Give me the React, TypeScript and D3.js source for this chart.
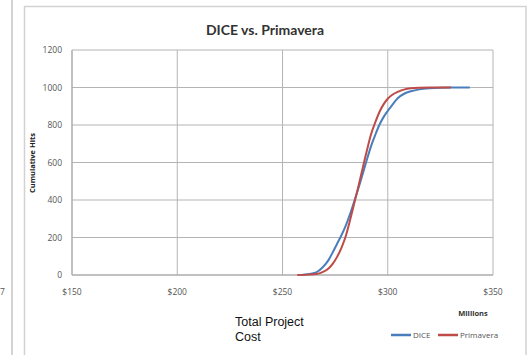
import React from "react";
import * as d3 from "d3";

const xTicks = [150, 200, 250, 300, 350];
const xTickLabels = ["$150", "$200", "$250", "$300", "$350"];
const yTicks = [0, 200, 400, 600, 800, 1000, 1200];

const diceCost = [259, 262, 266, 269, 272, 274, 276, 278, 280, 282, 284, 286, 288, 290, 292, 294, 296, 298, 300, 302, 305, 308, 311, 315, 320, 325, 330, 335, 339];
const diceHits = [0, 4, 14, 40, 82, 124, 168, 212, 262, 322, 390, 460, 535, 612, 685, 745, 800, 842, 875, 905, 945, 968, 980, 990, 996, 999, 1000, 1000, 1000];

const primCost = [257, 262, 266, 269, 272, 274, 276, 278, 280, 282, 284, 286, 288, 290, 292, 294, 296, 298, 300, 302, 305, 308, 311, 315, 320, 325, 330];
const primHits = [0, 2, 5, 15, 36, 62, 98, 145, 205, 288, 378, 470, 565, 660, 748, 812, 868, 910, 940, 960, 978, 990, 996, 999, 1000, 1000, 1000];

const seriesNames = ["DICE", "Primavera"];
const seriesColors = ["#4A7EBB", "#BE4B48"];

export default function App() {
  const x = d3.scaleLinear().domain([150, 350]).range([72, 493]);
  const y = d3.scaleLinear().domain([0, 1200]).range([275, 50]);
  const line = d3
    .line<[number, number]>()
    .x((d) => x(d[0]))
    .y((d) => y(d[1]))
    .curve(d3.curveMonotoneX);
  const dice = diceCost.map((c, i) => [c, diceHits[i]] as [number, number]);
  const prim = primCost.map((c, i) => [c, primHits[i]] as [number, number]);
  const series = [dice, prim];
  const tickFont = "'Open Sans', 'DejaVu Sans', sans-serif";
  const legendX = [391, 438];

  return (
    <svg
      width={530}
      height={355}
      style={{ position: "fixed", left: 0, top: 0, background: "#fff" }}
    >
      <rect x={0} y={0} width={530} height={355} fill="#fff" />
      <line x1={12} y1={0} x2={12} y2={355} stroke="#c4c4c4" strokeWidth={1.5} />
      <text x={0} y={295} fontSize={8.5} fill="#555" fontFamily={tickFont}>7</text>
      <path d="M24.5,355 V6.5 H526 V355" fill="none" stroke="#d2d2d2" strokeWidth={1.5} />
      <text
        x={265}
        y={35}
        textAnchor="middle"
        fontSize={14}
        fontWeight="bold"
        fill="#333"
        fontFamily="Lato, 'Open Sans', sans-serif"
      >
        DICE vs. Primavera
      </text>
      {yTicks.map((t) => (
        <line key={"gy" + t} x1={72} x2={493} y1={y(t)} y2={y(t)} stroke="#b4b4b4" strokeWidth={1} />
      ))}
      {xTicks.map((t) => (
        <line key={"gx" + t} x1={x(t)} x2={x(t)} y1={50} y2={275} stroke="#b4b4b4" strokeWidth={1} />
      ))}
      <line x1={72} x2={72} y1={50} y2={275} stroke="#a8a8a8" strokeWidth={1} />
      <line x1={72} x2={493} y1={275} y2={275} stroke="#a8a8a8" strokeWidth={1.2} />
      {yTicks.map((t) => (
        <text
          key={"ty" + t}
          x={62}
          y={y(t) + 3}
          textAnchor="end"
          fontSize={8.5}
          fill="#555"
          fontFamily={tickFont}
        >
          {t}
        </text>
      ))}
      {xTicks.map((t, i) => (
        <text
          key={"tx" + t}
          x={x(t)}
          y={295}
          textAnchor="middle"
          fontSize={8.5}
          fill="#555"
          fontFamily={tickFont}
        >
          {xTickLabels[i]}
        </text>
      ))}
      <text
        transform="translate(35,163) rotate(-90)"
        textAnchor="middle"
        fontSize={7.5}
        fontWeight="bold"
        fill="#222"
        fontFamily={tickFont}
      >
        Cumulative Hits
      </text>
      {series.map((s, i) => (
        <path
          key={"s" + i}
          d={line(s) || ""}
          fill="none"
          stroke={seriesColors[i]}
          strokeWidth={2}
          strokeLinejoin="round"
        />
      ))}
      <text x={473} y={316} textAnchor="middle" fontSize={7.5} fontWeight="bold" fill="#333" fontFamily={tickFont}>
        Millions
      </text>
      {seriesNames.map((n, i) => (
        <g key={"lg" + i}>
          <line x1={legendX[i]} x2={legendX[i] + 20} y1={335} y2={335} stroke={seriesColors[i]} strokeWidth={2.5} />
          <text x={legendX[i] + 22} y={338} fontSize={8} fill="#555" fontFamily={tickFont}>
            {n}
          </text>
        </g>
      ))}
      <text x={235} y={326} fontSize={12.5} fill="#111" fontFamily="'Liberation Sans', Arial, sans-serif">
        Total Project
      </text>
      <text x={235} y={341} fontSize={12.5} fill="#111" fontFamily="'Liberation Sans', Arial, sans-serif">
        Cost
      </text>
    </svg>
  );
}
